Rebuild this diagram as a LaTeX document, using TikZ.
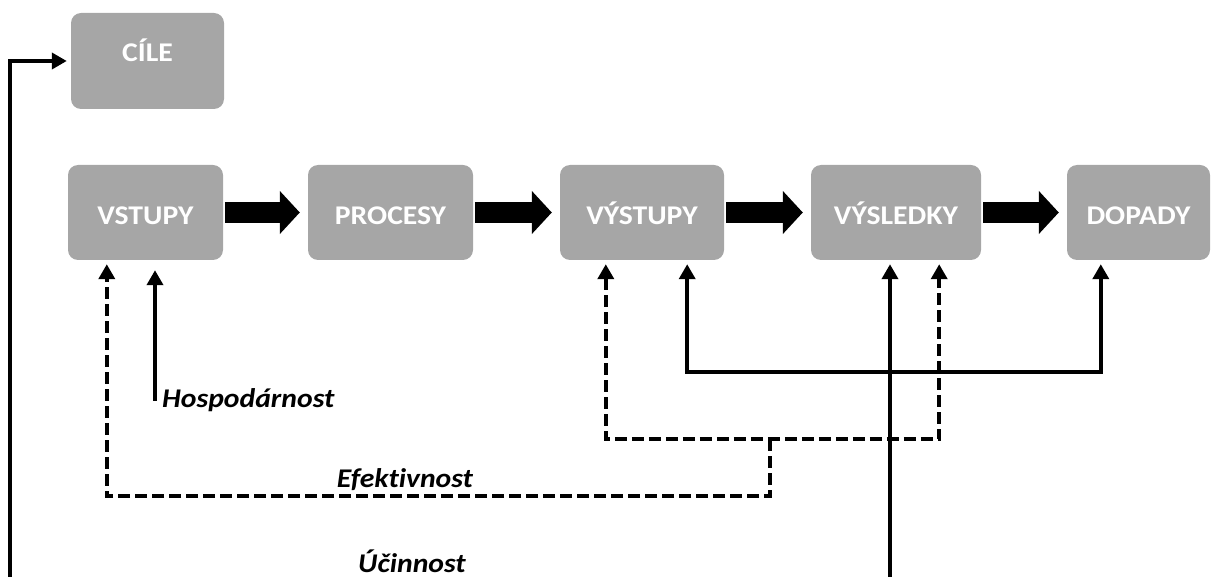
\documentclass[tikz,border=0pt]{standalone}
\usepackage{fontspec}
\setmainfont{Carlito}[FakeStretch=1.1, Ligatures=NoCommon]
\usetikzlibrary{arrows.meta}
\definecolor{boxgray}{HTML}{A6A6A6}

\begin{document}
\begin{tikzpicture}[x=1pt,y=-1pt,
        >={Triangle[width=16pt,length=15pt]},
        box/.style={fill=boxgray, rounded corners=10pt, inner sep=0pt, minimum height=95pt,
          text=white, font=\fontsize{27}{30}\selectfont\bfseries, text height=25pt, text depth=0pt},
        bigarrow/.style={line width=21pt, -{Triangle[width=42pt,length=20pt]}, shorten <=2pt, shorten >=8pt},
        conn/.style={line width=4.4pt, ->},
        dconn/.style={conn, dash pattern=on 12pt off 5pt},
        lbl/.style={font=\fontsize{27}{30}\selectfont\bfseries\itshape, inner sep=0pt}]
        \useasboundingbox (0,0) rectangle (1211,577);
        % boxes
        \node[box, minimum width=153pt, minimum height=96pt, text depth=23pt] (cile) at (147.5,61) {CÍLE};
        \node[box, minimum width=155pt] (vstupy) at (145.5,212.5) {VSTUPY};
        \node[box, minimum width=165pt] (procesy) at (390.5,212.5) {PROCESY};
        \node[box, minimum width=164pt] (vystupy) at (642,212.5) {VÝSTUPY};
        \node[box, minimum width=170pt] (vysledky) at (896,212.5) {VÝSLEDKY};
        \node[box, minimum width=143pt] (dopady) at (1138.5,212.5) {DOPADY};
        \foreach \a/\b in {vstupy/procesy, procesy/vystupy, vystupy/vysledky, vysledky/dopady}
          \draw[bigarrow] (\a.east) -- (\b.west);
        % labels
        \node[lbl, anchor=base west] (hosp) at (162,408) {Hospodárnost};
        \node[lbl, anchor=base] (efekt) at (405,487) {Efektivnost};
        \node[lbl, anchor=base] (ucin) at (412,572) {Účinnost};
        \coordinate (cilend) at (10,577);
        \coordinate (ucinend) at (890,577);
        % connectors
        \draw[conn, shorten >=4pt] (cilend) |- (cile.west);
        \draw[conn, shorten >=4pt] (ucinend) -- (ucinend |- vysledky.south);
        \draw[conn, shorten >=10pt] ([xshift=-7pt]hosp.west) -- ([xshift=-7pt]hosp.west |- vstupy.south);
        \draw[conn, <->, shorten <=4pt, shorten >=4pt] ([xshift=-37pt]vystupy.south east) -- ++(0,112) -| ([xshift=34pt]dopady.south west);
        \draw[dconn, <->, shorten <=4pt, shorten >=4pt] ([xshift=46pt]vystupy.south west) -- ++(0,179) -| ([xshift=-42pt]vysledky.south east);
        \draw[dconn, shorten >=4pt] ([xshift=46pt]vystupy.south east) ++(0,179) -- ++(0,57) -| ([xshift=39pt]vstupy.south west);
\end{tikzpicture}
\end{document}
